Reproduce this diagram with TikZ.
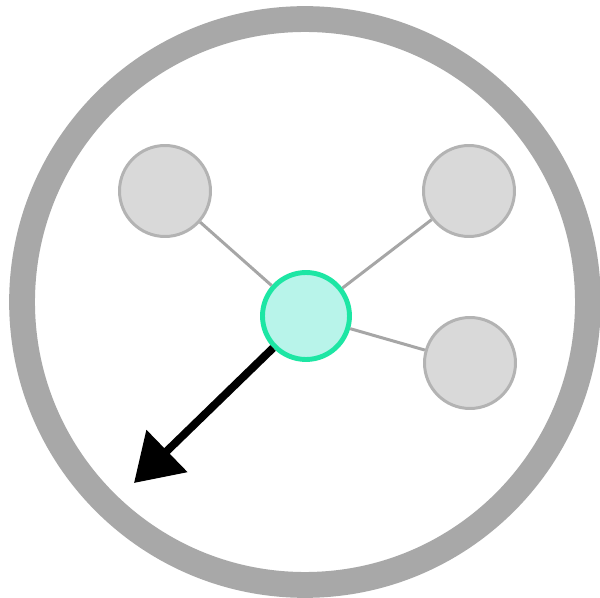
\documentclass[tikz,border=0pt]{standalone}
\usepackage{tikz}
\usetikzlibrary{arrows.meta}
\definecolor{ringgray}{HTML}{A8A8A8}
\definecolor{nodegray}{HTML}{D9D9D9}
\definecolor{nodeline}{HTML}{B3B3B3}
\definecolor{linkgray}{HTML}{A6A6A6}
\definecolor{mint}{HTML}{1DE6A4}
\definecolor{mintfill}{HTML}{B8F4EA}

\begin{document}
\begin{tikzpicture}[x=0.02cm,y=-0.02cm,
  nbr/.style={draw=nodeline,circle,fill=nodegray,line width=1.7pt,minimum size=1.82cm,inner sep=0pt},
  self/.style={draw=mint,circle,fill=mintfill,line width=2.8pt,minimum size=1.74cm,inner sep=0pt},
  link/.style={draw=linkgray,line width=1.7pt}]
\useasboundingbox[fill=white] (0,0) rectangle (600,598);
% outer ring
\draw[ringgray,line width=14.7pt] (305,302) circle (5.66cm);

% neighbours
\node[nbr] (N1) at (165,191) {};
\node[nbr] (N2) at (469,191) {};
\node[nbr] (N3) at (470,363) {};

% centre node
\node[self] (C) at (306,316) {};
\coordinate (T) at (134,483);

% links to neighbours
\draw[link] (C) -- (N1);
\draw[link] (C) -- (N2);
\draw[link] (C) -- (N3);

% outgoing arrow
\draw[-{Triangle[length=0.92cm,width=1.14cm]},line width=4.5pt] (C) -- (T);
\end{tikzpicture}
\end{document}
